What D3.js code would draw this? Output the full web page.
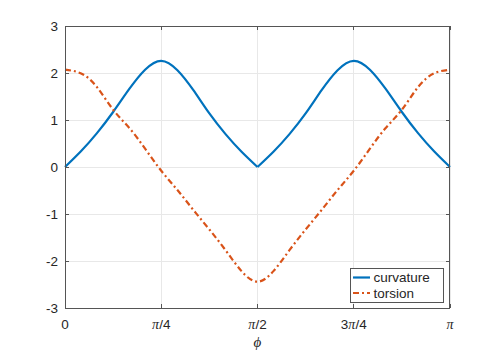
<!DOCTYPE html>
<html><head><meta charset="utf-8">
<script src="https://cdn.jsdelivr.net/npm/d3@7/dist/d3.min.js"></script>
<style>
html,body{margin:0;padding:0;background:#fff;}
svg{display:block;}
text{font-family:"Liberation Sans",Arial,Helvetica,sans-serif;fill:#262626;}
</style></head>
<body><svg id="c" width="498" height="354"></svg>
<script>
// phi as a fraction of pi
const phiFrac = [0, 0.042, 0.083, 0.125, 0.167, 0.208, 0.25, 0.292, 0.333, 0.375, 0.417, 0.458, 0.5,
                 0.542, 0.583, 0.625, 0.667, 0.708, 0.75, 0.792, 0.833, 0.875, 0.917, 0.958, 1];
const curvature = [0, 0.34, 0.72, 1.17, 1.66, 2.07, 2.26, 2.06, 1.64, 1.14, 0.70, 0.33, 0,
                   0.33, 0.70, 1.14, 1.64, 2.06, 2.26, 2.07, 1.66, 1.17, 0.72, 0.34, 0];
const torsion = [2.07, 1.99, 1.70, 1.22, 0.83, 0.39, -0.08, -0.49, -0.91, -1.33, -1.77, -2.21, -2.44,
                 -2.21, -1.77, -1.33, -0.91, -0.49, -0.08, 0.39, 0.83, 1.22, 1.70, 1.99, 2.07];
const xTicks = [0, 0.25, 0.5, 0.75, 1];
const xTickLabels = [["0"], ["π","/4"], ["π","/2"], ["3","π","/4"], ["π"]];
const yTicks = [-3, -2, -1, 0, 1, 2, 3];
const seriesNames = ["curvature", "torsion"];
const colors = ["#0072BD", "#D95319"];

const L = 65, R = 450, T = 26, B = 308;
const svg = d3.select("#c");
const x = d3.scaleLinear().domain([0, 1]).range([L, R]);
const y = d3.scaleLinear().domain([-3, 3]).range([B, T]);

// grid
const g = svg.append("g");
g.selectAll("line.gx").data(xTicks).enter().append("line")
  .attr("x1", d => x(d)).attr("x2", d => x(d)).attr("y1", T).attr("y2", B)
  .attr("stroke", "#e8e8e8").attr("stroke-width", 1).attr("shape-rendering", "crispEdges");
g.selectAll("line.gy").data(yTicks).enter().append("line")
  .attr("y1", d => y(d)).attr("y2", d => y(d)).attr("x1", L).attr("x2", R)
  .attr("stroke", "#e8e8e8").attr("stroke-width", 1).attr("shape-rendering", "crispEdges");

// lines
const pts = phiFrac.map((p, i) => ({p, k: curvature[i], t: torsion[i]}));
const lineK = d3.line().x(d => x(d.p)).y(d => y(d.k)).curve(d3.curveNatural);
const lineT = d3.line().x(d => x(d.p)).y(d => y(d.t)).curve(d3.curveNatural);
const half1 = pts.filter(d => d.p <= 0.5), half2 = pts.filter(d => d.p >= 0.5);
[half1, half2].forEach(h => {
  svg.append("path").attr("d", lineK(h)).attr("fill", "none")
    .attr("stroke", colors[0]).attr("stroke-width", 2.2).attr("stroke-linejoin", "round");
});
svg.append("path").attr("d", lineT(pts)).attr("fill", "none")
  .attr("stroke", colors[1]).attr("stroke-width", 2.2).attr("stroke-dasharray", "6,3,2,3");

// axes box and ticks
const axG = svg.append("g");
const axc = "#555";
axG.append("rect").attr("x", L + 0.5).attr("y", T + 0.5).attr("width", R - L - 1).attr("height", B - T)
  .attr("fill", "none").attr("stroke", axc).attr("stroke-width", 1).attr("shape-rendering", "crispEdges");
const tl = 4;
xTicks.forEach(d => {
  axG.append("line").attr("x1", x(d)).attr("x2", x(d)).attr("y1", B).attr("y2", B - tl).attr("stroke", axc).attr("shape-rendering", "crispEdges");
  axG.append("line").attr("x1", x(d)).attr("x2", x(d)).attr("y1", T).attr("y2", T + tl).attr("stroke", axc).attr("shape-rendering", "crispEdges");
});
yTicks.forEach(d => {
  axG.append("line").attr("y1", y(d)).attr("y2", y(d)).attr("x1", L).attr("x2", L + tl).attr("stroke", axc).attr("shape-rendering", "crispEdges");
  axG.append("line").attr("y1", y(d)).attr("y2", y(d)).attr("x1", R).attr("x2", R - tl).attr("stroke", axc).attr("shape-rendering", "crispEdges");
});

// tick labels
yTicks.forEach(d => {
  svg.append("text").attr("x", 58).attr("y", y(d)).attr("dy", "0.35em")
    .attr("text-anchor", "end").style("font-size", "13.5px").text(d);
});
xTicks.forEach((d, i) => {
  const t = svg.append("text").attr("x", x(d)).attr("y", 329)
    .attr("text-anchor", "middle").style("font-size", "13.5px");
  xTickLabels[i].forEach(s => {
    const ts = t.append("tspan").text(s);
    if (s === "π") ts.style("font-family", "'Liberation Serif','DejaVu Serif',serif").style("font-style", "italic").style("font-size", "14px");
  });
});
svg.append("text").attr("x", (L + R) / 2).attr("y", 347).attr("text-anchor", "middle")
  .style("font-size", "15px").style("font-style", "italic")
  .style("font-family", "'Liberation Serif','DejaVu Serif',serif").text("ϕ");

// legend
const lg = svg.append("g");
lg.append("rect").attr("x", 350.5).attr("y", 268.5).attr("width", 93).attr("height", 34)
  .attr("fill", "#fff").attr("stroke", "#555").attr("stroke-width", 1).attr("shape-rendering", "crispEdges");
seriesNames.forEach((n, i) => {
  const yy = 277.5 + i * 15.5;
  lg.append("line").attr("x1", 353).attr("x2", 370).attr("y1", yy).attr("y2", yy)
    .attr("stroke", colors[i]).attr("stroke-width", 2.2)
    .attr("stroke-dasharray", i === 1 ? "6,3,2,3" : null);
  lg.append("text").attr("x", 373.5).attr("y", yy).attr("dy", "0.35em")
    .style("font-size", "13.5px").text(n);
});
</script></body></html>
